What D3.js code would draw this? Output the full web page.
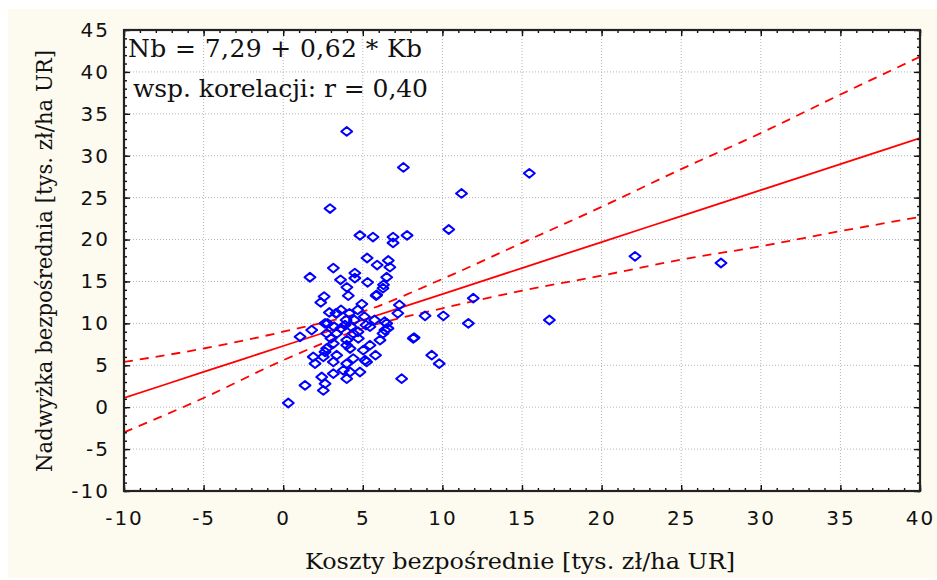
<!DOCTYPE html>
<html>
<head>
<meta charset="utf-8">
<script src="https://cdn.jsdelivr.net/npm/d3@7"></script>
<style>
  body { margin: 0; background: #ffffff; }
  svg { display: block; }
</style>
</head>
<body>
<svg id="chart"></svg>
<script>
// values
// Koszty bezposrednie (x) and Nadwyzka bezposrednia (y), thous. zl/ha UR
var kosztyX = [
  3.99, 7.55, 15.46, 11.2, 2.94, 10.4, 22.1, 27.5, 16.72, 11.63, 11.94, 10.06, 8.91, 8.22, 9.33, 9.8, 7.44, 0.32,
  4.82, 5.64, 6.9, 6.9, 7.78,
  5.27, 5.9, 6.6, 6.7, 6.5, 3.15, 1.68, 3.6, 4.5, 4.5, 5.3, 4.0, 6.3, 4.09, 5.84, 6.27, 2.57, 2.36, 4.94, 7.3, 7.2, 5.87,
  3.31, 3.63, 4.16, 4.68, 3.95, 4.47, 5.1, 2.78, 3.2, 3.63, 4.26, 5.2, 5.74, 6.37, 6.58, 6.27, 6.5, 6.39, 2.63, 1.79, 1.06, 5.45, 3.88, 3.36, 2.9,
  1.89, 2.0, 2.42, 1.37, 2.52, 2.63, 3.99, 4.82, 3.15, 3.78, 4.4, 5.24, 3.15, 2.63, 3.36, 4.2, 5.03, 4.72, 3.99, 3.15, 6.08, 2.73, 3.99, 5.14, 3.99, 2.52, 4.2, 3.36, 4.4, 2.73, 5.45, 4.7, 3.0, 5.8,
  8.17
];
var nadwyzkaY = [
  32.9, 28.6, 27.9, 25.5, 23.7, 21.2, 18.0, 17.2, 10.4, 10.0, 13.0, 10.9, 10.9, 8.3, 6.2, 5.2, 3.4, 0.5,
  20.5, 20.3, 20.3, 19.6, 20.5,
  17.8, 16.96, 17.5, 16.7, 15.5, 16.6, 15.5, 15.2, 16.0, 15.4, 14.9, 14.3, 14.6, 13.3, 13.3, 14.2, 13.2, 12.5, 12.3, 12.2, 11.2, 13.4,
  11.2, 11.6, 11.2, 11.6, 10.4, 10.4, 10.8, 10.0, 9.6, 9.4, 9.6, 9.8, 10.4, 10.2, 9.4, 8.8, 10.0, 9.2, 10.0, 9.2, 8.4, 9.6, 9.8, 11.2, 11.3,
  6.0, 5.2, 3.6, 2.6, 2.0, 2.8, 3.4, 4.2, 4.0, 4.4, 5.8, 5.4, 5.4, 6.6, 6.2, 7.0, 6.8, 8.2, 8.0, 7.6, 8.0, 7.0, 7.4, 5.6, 5.2, 6.0, 4.2, 8.8, 8.8, 8.8, 7.4, 9.0, 8.2, 6.2,
  8.2
];

// fitted line and 95% band, read at every 5 on the x axis
var fitX     = [-10, -5, 0, 5, 10, 15, 20, 25, 30, 35, 40];
var fitY     = [1.1, 4.2, 7.3, 10.4, 13.5, 16.6, 19.7, 22.8, 25.9, 29.0, 32.1];
var upperY   = [5.4, 7.0, 9.0, 11.4, 15.3, 19.6, 23.9, 28.4, 32.7, 37.3, 41.8];
var lowerY   = [-3.0, 1.1, 5.6, 9.4, 11.8, 13.9, 15.7, 17.6, 19.2, 21.0, 22.7];

var xTickValues = [-10, -5, 0, 5, 10, 15, 20, 25, 30, 35, 40];
var yTickValues = [-10, -5, 0, 5, 10, 15, 20, 25, 30, 35, 40, 45];

var xTitle = "Koszty bezpośrednie [tys. zł/ha UR]";
var yTitle = "Nadwyżka bezpośrednia [tys. zł/ha UR]";
var equationText = "Nb = 7,29 + 0,62 * Kb";
var corrText = "wsp. korelacji: r = 0,40";

// chart setup
var svgWidth = 937;
var svgHeight = 580;
var margin = { top: 30, right: 17, bottom: 89, left: 124 };
var width = svgWidth - margin.left - margin.right;
var height = svgHeight - margin.top - margin.bottom;

var svg = d3.select("#chart")
    .attr("width", svgWidth)
    .attr("height", svgHeight);

// cream panel behind everything
svg.append("rect")
    .attr("x", 8).attr("y", 9)
    .attr("width", svgWidth - 8).attr("height", 569)
    .attr("fill", "#fdfbf0");

var chartGroup = svg.append("g")
    .attr("transform", `translate(${margin.left},${margin.top})`);

var xScale = d3.scaleLinear().domain([-10, 40]).range([0, width]);
var yScale = d3.scaleLinear().domain([-10, 45]).range([height, 0]);

chartGroup.append("rect")
    .attr("width", width).attr("height", height)
    .attr("fill", "#ffffff");

// dotted grid
chartGroup.append("g")
    .selectAll("line")
    .data(xTickValues.slice(1))
    .enter().append("line")
    .attr("x1", d => xScale(d)).attr("x2", d => xScale(d))
    .attr("y1", 0).attr("y2", height)
    .attr("stroke", "#b4b4b4").attr("stroke-dasharray", "1,2");

chartGroup.append("g")
    .selectAll("line")
    .data(yTickValues.slice(1, -1))
    .enter().append("line")
    .attr("y1", d => yScale(d)).attr("y2", d => yScale(d))
    .attr("x1", 0).attr("x2", width)
    .attr("stroke", "#b4b4b4").attr("stroke-dasharray", "1,2");

// regression line + confidence band
chartGroup.append("clipPath").attr("id", "clip")
  .append("rect").attr("width", width).attr("height", height);

var lineGroup = chartGroup.append("g").attr("clip-path", "url(#clip)");

function bandLine(ys) {
  return d3.line()
      .x((d, i) => xScale(fitX[i]))
      .y(d => yScale(d))
      .curve(d3.curveMonotoneX)(ys);
}

lineGroup.append("path")
    .attr("d", bandLine(fitY))
    .attr("fill", "none").attr("stroke", "#ff0000").attr("stroke-width", 1.8);

[upperY, lowerY].forEach(function(ys) {
  lineGroup.append("path")
      .attr("d", bandLine(ys))
      .attr("fill", "none").attr("stroke", "#ff0000").attr("stroke-width", 1.8)
      .attr("stroke-dasharray", "9,7");
});

// diamond markers, a bit wider than tall like the original
var diamond = {
  draw: function(context, size) {
    var r = Math.sqrt(size) * 0.62625;
    context.moveTo(0, -r * 0.8);
    context.lineTo(r, 0);
    context.lineTo(0, r * 0.8);
    context.lineTo(-r, 0);
    context.closePath();
  }
};

chartGroup.append("g")
    .selectAll("path")
    .data(kosztyX)
    .enter()
    .append("path")
    .attr("transform", (d, i) => `translate(${xScale(d)},${yScale(nadwyzkaY[i])})`)
    .attr("d", d3.symbol().type(diamond).size(76))
    .attr("fill", "none")
    .attr("stroke", "#0000ff")
    .attr("stroke-width", 2)
    .attr("stroke-linejoin", "round");

// axes: inward ticks on all four sides
var minorX = d3.range(-10, 41, 1);
var minorY = d3.range(-10, 46, 1);
var plainNum = d => String(d);   // keep ascii hyphen for negatives

function styleAxis(g) {
  g.select(".domain").remove();
  g.selectAll("line").attr("stroke", "#111").attr("stroke-width", 1.4);
  g.selectAll("text")
      .attr("fill", "#111")
      .style("font-family", "'DejaVu Sans', sans-serif")
      .style("font-size", "20px")
      .style("letter-spacing", "2px");
}

chartGroup.append("g")
    .attr("transform", `translate(0, ${height})`)
    .call(d3.axisBottom(xScale).tickValues(minorX).tickSize(-3).tickFormat(""))
    .call(styleAxis);
chartGroup.append("g")
    .attr("transform", `translate(0, ${height})`)
    .call(d3.axisBottom(xScale).tickValues(xTickValues).tickSize(-6).tickPadding(20).tickFormat(plainNum))
    .call(styleAxis);

chartGroup.append("g")
    .call(d3.axisTop(xScale).tickValues(minorX).tickSize(-3).tickFormat(""))
    .call(styleAxis);
chartGroup.append("g")
    .call(d3.axisTop(xScale).tickValues(xTickValues).tickSize(-6).tickFormat(""))
    .call(styleAxis);

chartGroup.append("g")
    .call(d3.axisLeft(yScale).tickValues(minorY).tickSize(-3).tickFormat(""))
    .call(styleAxis);
chartGroup.append("g")
    .call(d3.axisLeft(yScale).tickValues(yTickValues).tickSize(-6).tickPadding(14).tickFormat(plainNum))
    .call(styleAxis);

chartGroup.append("g")
    .attr("transform", `translate(${width}, 0)`)
    .call(d3.axisRight(yScale).tickValues(minorY).tickSize(-3).tickFormat(""))
    .call(styleAxis);
chartGroup.append("g")
    .attr("transform", `translate(${width}, 0)`)
    .call(d3.axisRight(yScale).tickValues(yTickValues).tickSize(-6).tickFormat(""))
    .call(styleAxis);

// frame
chartGroup.append("rect")
    .attr("width", width).attr("height", height)
    .attr("fill", "none").attr("stroke", "#222").attr("stroke-width", 2.2);

// texts
var serif = "'DejaVu Serif', serif";

chartGroup.append("text")
    .attr("x", 4).attr("y", 27)
    .attr("textLength", 294).attr("lengthAdjust", "spacing")
    .style("font-family", serif).style("font-size", "25px").attr("fill", "#111")
    .text(equationText);

chartGroup.append("text")
    .attr("x", 9).attr("y", 67)
    .attr("textLength", 295).attr("lengthAdjust", "spacing")
    .style("font-family", serif).style("font-size", "25px").attr("fill", "#111")
    .text(corrText);

svg.append("text")
    .attr("x", 305).attr("y", 569)
    .attr("textLength", 430).attr("lengthAdjust", "spacingAndGlyphs")
    .style("font-family", serif).style("font-size", "22px").attr("fill", "#111")
    .text(xTitle);

svg.append("text")
    .attr("transform", "translate(52, 472) rotate(-90)")
    .attr("textLength", 422).attr("lengthAdjust", "spacingAndGlyphs")
    .style("font-family", serif).style("font-size", "22px").attr("fill", "#111")
    .text(yTitle);
</script>
</body>
</html>
